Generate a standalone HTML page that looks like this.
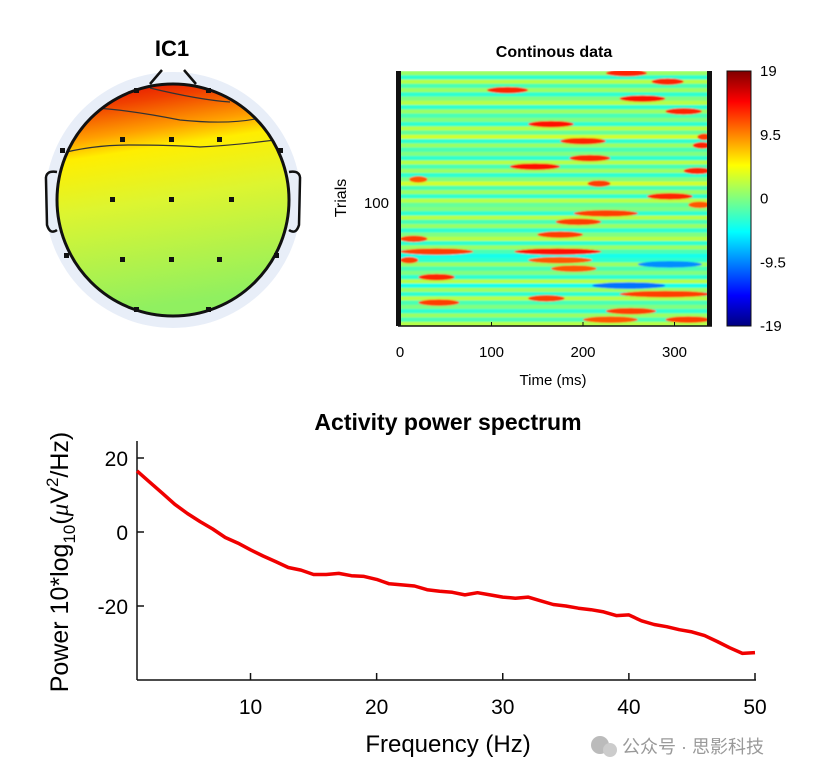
<!DOCTYPE html>
<html><head><meta charset="utf-8"><style>
body{margin:0;background:#fff;width:830px;height:780px;overflow:hidden;font-family:"Liberation Sans","Noto Sans CJK SC",sans-serif}
svg{position:absolute;left:0;top:0}
</style></head><body>
<svg width="830" height="780" xmlns="http://www.w3.org/2000/svg">
<defs>
<linearGradient id="topoGrad" x1="0" y1="0" x2="0.15" y2="1">
<stop offset="0" stop-color="#e00000"/><stop offset="0.12" stop-color="#f04000"/><stop offset="0.25" stop-color="#ffa000"/><stop offset="0.33" stop-color="#ffee00"/><stop offset="0.55" stop-color="#ddf530"/><stop offset="1" stop-color="#90f060"/>
</linearGradient>
<linearGradient id="cbGrad" x1="0" y1="0" x2="0" y2="1">
<stop offset="0" stop-color="#800000"/><stop offset="0.12" stop-color="#ff0000"/><stop offset="0.37" stop-color="#ffff00"/><stop offset="0.5" stop-color="#80ff80"/><stop offset="0.63" stop-color="#00ffff"/><stop offset="0.88" stop-color="#0000ff"/><stop offset="1" stop-color="#000080"/>
</linearGradient>
<clipPath id="headClip"><circle cx="173" cy="200" r="116"/></clipPath>
<clipPath id="hmClip"><rect x="400" y="71" width="309" height="255"/></clipPath>
<filter id="blur"><feGaussianBlur stdDeviation="0.8"/></filter>
</defs>

<g>
<text x="172" y="56" font-size="22" font-weight="bold" text-anchor="middle">IC1</text>
<circle cx="173" cy="200" r="128" fill="#e8eef8"/>
<rect x="57" y="84" width="232" height="232" fill="url(#topoGrad)" clip-path="url(#headClip)"/>
<g clip-path="url(#headClip)" fill="none" stroke="#333" stroke-width="1.2">
<path d="M150 88 Q200 100 230 102"/>
<path d="M95 108 Q130 110 180 120 Q230 125 260 118"/>
<path d="M55 155 Q90 145 130 145 Q170 145 200 147 Q240 145 290 138"/>
</g>
<circle cx="173" cy="200" r="116" fill="none" stroke="#111" stroke-width="3"/>
<path d="M150 84 L162 70 M184 70 L196 84" stroke="#111" stroke-width="2.5" fill="none"/>
<path d="M57 172 Q45 170 46 180 L47 225 Q50 235 57 230" stroke="#111" stroke-width="2.5" fill="none"/>
<path d="M289 172 Q301 170 300 180 L299 225 Q296 235 289 230" stroke="#111" stroke-width="2.5" fill="none"/>
<g fill="#111">
<rect x="120" y="137" width="5" height="5"/><rect x="169" y="137" width="5" height="5"/><rect x="217" y="137" width="5" height="5"/>
<rect x="110" y="197" width="5" height="5"/><rect x="169" y="197" width="5" height="5"/><rect x="229" y="197" width="5" height="5"/>
<rect x="120" y="257" width="5" height="5"/><rect x="169" y="257" width="5" height="5"/><rect x="217" y="257" width="5" height="5"/>
<rect x="60" y="148" width="5" height="5"/><rect x="278" y="148" width="5" height="5"/>
<rect x="64" y="253" width="5" height="5"/><rect x="274" y="253" width="5" height="5"/>
<rect x="134" y="88" width="5" height="5"/><rect x="206" y="88" width="5" height="5"/>
<rect x="134" y="307" width="5" height="5"/><rect x="206" y="307" width="5" height="5"/>
</g>
</g>

<text x="554" y="57" font-size="16" font-weight="bold" text-anchor="middle">Continous data</text>
<g id="hm" clip-path="url(#hmClip)"></g>
<rect x="396" y="71" width="5" height="255" fill="#111"/>
<rect x="707" y="71" width="5" height="255" fill="#111"/>
<line x1="398" y1="326" x2="712" y2="326" stroke="#111" stroke-width="1.5"/>
<g id="hmx" font-size="15" text-anchor="middle"></g>
<text x="553" y="385" font-size="15" text-anchor="middle">Time (ms)</text>
<text x="389" y="208" font-size="15" text-anchor="end">100</text>
<text transform="translate(346,198) rotate(-90)" font-size="16" text-anchor="middle">Trials</text>
<rect x="727" y="71" width="24" height="255" fill="url(#cbGrad)" stroke="#111"/>
<g id="cb" font-size="15"></g>

<text x="448" y="430" font-size="23" font-weight="bold" text-anchor="middle">Activity power spectrum</text>
<line x1="137" y1="441" x2="137" y2="680" stroke="#111" stroke-width="1.5"/>
<line x1="137" y1="680" x2="756" y2="680" stroke="#111" stroke-width="1.5"/>
<g id="spx" font-size="21" text-anchor="middle"></g>
<g id="spy" font-size="21" text-anchor="end"></g>
<path id="spline" fill="none" stroke="#f00000" stroke-width="3.5" stroke-linejoin="round"/>
<text x="448" y="752" font-size="24" text-anchor="middle">Frequency (Hz)</text>
<text transform="translate(68,562) rotate(-90)" font-size="25" text-anchor="middle">Power 10*log<tspan font-size="17" dy="7">10</tspan><tspan dy="-7">(</tspan><tspan font-family="Liberation Serif" font-style="italic">μ</tspan>V<tspan font-size="17" dy="-10">2</tspan><tspan dy="10">/Hz)</tspan></text>
<g>
<circle cx="600" cy="745" r="9" fill="#bbb"/><circle cx="610" cy="750" r="7" fill="#ccc"/>
<text x="622" y="753" font-size="18" fill="#999">公众号 · 思影科技</text>
</g>
</svg>
<script>
const ns="http://www.w3.org/2000/svg";
const freqs=[1,2,3,4,5,6,7,8,9,10,11,12,13,14,15,16,17,18,19,20,21,22,23,24,25,26,27,28,29,30,31,32,33,34,35,36,37,38,39,40,41,42,43,44,45,46,47,48,49,50];
const power=[16.5,13.5,10.5,7.5,5,2.8,0.8,-1.5,-3,-4.8,-6.5,-8,-9.6,-10.3,-11.5,-11.5,-11.2,-11.8,-12,-12.8,-14,-14.3,-14.6,-15.6,-16,-16.3,-17,-16.4,-17,-17.6,-17.9,-17.6,-18.6,-19.6,-20,-20.6,-21,-21.6,-22.6,-22.4,-24,-25,-25.6,-26.4,-27,-28,-29.6,-31.3,-32.8,-32.6];
const spXTicks=[10,20,30,40,50];
const spYTicks=[20,0,-20];
const timeTicks=[0,100,200,300];
const cbTicks=[19,9.5,0,-9.5,-19];
const rowBase=[1,-3,2,-2,1,-3,0,2,-3,1,-2,0,-3,2,-1,3,-3,1,-2,0,-3,2,-2,1,-3,0,3,-2,1,-3,2,-1,0,-3,2,-2,1,-3,0,2,-3,1,-2,-4,-3,1,-2,0,-3,2,-4,1,-3,2,-2,0,-3,1,-2,2];
const blobs=[[0,225,270,13],[2,275,310,13],[4,95,140,13],[6,240,290,14],[9,290,330,13],[12,140,190,14],[15,325,340,12],[16,175,225,13],[17,320,340,13],[20,185,230,13],[22,120,175,14],[23,310,340,13],[25,10,30,11],[26,205,230,12],[29,270,320,13],[31,315,340,11],[33,190,260,12],[35,170,220,12],[38,150,200,12],[39,0,30,12],[42,0,80,12],[42,125,220,14],[44,0,20,12],[44,140,210,11],[45,260,330,-9],[46,165,215,11],[48,20,60,13],[50,210,290,-10],[52,240,340,12],[53,140,180,12],[54,20,65,12],[56,225,280,12],[58,290,340,12],[58,200,260,11]];
const nRows=60;
const hx=v=>400+v*0.915, hy=r=>71+r*255/nRows;
function jet(v){let t=(v+19)/38;t=Math.max(0,Math.min(1,t));
 const f=x=>Math.max(0,Math.min(1,1.5-Math.abs(4*t-x)));
 return `rgb(${Math.round(255*f(3))},${Math.round(255*f(2))},${Math.round(255*f(1))})`;}
const hm=document.getElementById('hm');
const hmg=document.createElementNS(ns,'g');hmg.setAttribute('filter','url(#blur)');hm.appendChild(hmg);
rowBase.forEach((v,i)=>{const r=document.createElementNS(ns,'rect');
 r.setAttribute('x',398);r.setAttribute('y',hy(i));r.setAttribute('width',314);r.setAttribute('height',255/nRows+0.5);
 r.setAttribute('fill',jet(v));
 
 
 hmg.appendChild(r);});
blobs.forEach(b=>{const e=document.createElementNS(ns,'ellipse');
 const x0=hx(b[1]),x1=hx(b[2]);
 e.setAttribute('cx',(x0+x1)/2);e.setAttribute('cy',hy(b[0])+255/nRows/2);
 e.setAttribute('rx',(x1-x0)/2);e.setAttribute('ry',3.2);e.setAttribute('fill',jet(b[3]));
 
 
 hmg.appendChild(e);});
const hmx=document.getElementById('hmx');
timeTicks.forEach(t=>{const l=document.createElementNS(ns,'line');
 l.setAttribute('x1',hx(t));l.setAttribute('x2',hx(t));l.setAttribute('y1',322);l.setAttribute('y2',326);l.setAttribute('stroke','#111');
 
 
 hmx.appendChild(l);
 const tx=document.createElementNS(ns,'text');tx.setAttribute('x',hx(t));tx.setAttribute('y',357);tx.textContent=t;
 
 
 hmx.appendChild(tx);});
const cb=document.getElementById('cb');
cbTicks.forEach(v=>{const y=71+(19-v)/38*255;const tx=document.createElementNS(ns,'text');
 tx.setAttribute('x',760);tx.setAttribute('y',y+5);tx.textContent=v;
 
 
 cb.appendChild(tx);});
const sx=f=>137+(f-1)*(755-137)/49, sy=p=>532-p*3.7;
document.getElementById('spline').setAttribute('d',freqs.map((f,i)=>(i?'L':'M')+sx(f).toFixed(1)+' '+sy(power[i]).toFixed(1)).join(' '));
const spx=document.getElementById('spx');
spXTicks.forEach(f=>{const l=document.createElementNS(ns,'line');
 l.setAttribute('x1',sx(f));l.setAttribute('x2',sx(f));l.setAttribute('y1',673);l.setAttribute('y2',680);l.setAttribute('stroke','#111');l.setAttribute('stroke-width','1.5');
 
 
 spx.appendChild(l);
 const t=document.createElementNS(ns,'text');t.setAttribute('x',sx(f));t.setAttribute('y',714);t.textContent=f;
 
 
 spx.appendChild(t);});
const spy=document.getElementById('spy');
spYTicks.forEach(p=>{const l=document.createElementNS(ns,'line');
 l.setAttribute('x1',137);l.setAttribute('x2',144);l.setAttribute('y1',sy(p));l.setAttribute('y2',sy(p));l.setAttribute('stroke','#111');l.setAttribute('stroke-width','1.5');
 
 
 spy.appendChild(l);
 const t=document.createElementNS(ns,'text');t.setAttribute('x',128);t.setAttribute('y',sy(p)+8);t.textContent=p;
 
 
 spy.appendChild(t);});
</script>
</body></html>
